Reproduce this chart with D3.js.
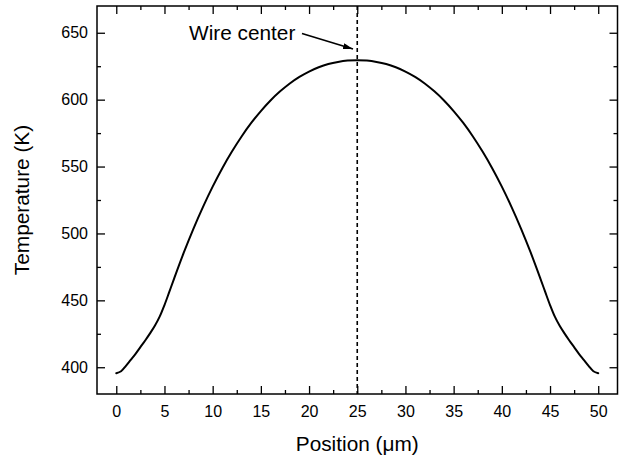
<!DOCTYPE html>
<html>
<head>
<meta charset="utf-8">
<script src="https://cdn.jsdelivr.net/npm/d3@7"></script>
<style>
  html, body { margin: 0; padding: 0; background: #fff; }
  svg { display: block; font-family: Arial, "Liberation Sans", Helvetica, sans-serif; }
</style>
</head>
<body>
<svg id="chart" width="625" height="465"></svg>
<script>
const positions = [0, 0.5, 1, 1.5, 2, 2.5, 3, 3.5, 4, 4.5, 5, 5.5, 6, 7, 8, 9, 10, 11, 12, 13, 14, 15, 16, 17, 18, 19, 20,
  21, 22, 23, 24, 25, 26, 27, 28, 29, 30, 31, 32, 33, 34, 35, 36, 37, 38, 39, 40,
  41, 42, 43, 44, 44.5, 45, 45.5, 46, 46.5, 47, 47.5, 48, 48.5, 49, 49.5, 50];
const temperatures = [395.5, 397, 401, 405.5, 410, 415, 420, 425.3, 431, 437.8, 446.5, 456.3, 466.3, 485.6, 503.5, 519.9, 535.0,
  548.8, 561.2, 572.5, 582.6, 591.5, 599.4, 606.2, 612.1, 617.0, 621.0, 624.2, 626.6, 628.2, 629.2, 629.5,
  629.2, 628.2, 626.6, 624.2, 621.0, 617.0, 612.1, 606.2, 599.4, 591.5, 582.6, 572.5, 561.2, 548.8, 535.0,
  519.9, 503.5, 485.6, 466.3, 456.3, 446.5, 437.8, 431, 425.3, 420, 415, 410, 405.5, 401, 397, 395.5];
const xTicks = [0, 5, 10, 15, 20, 25, 30, 35, 40, 45, 50];
const xMinorTicks = [2.5, 7.5, 12.5, 17.5, 22.5, 27.5, 32.5, 37.5, 42.5, 47.5];
const yTicks = [400, 450, 500, 550, 600, 650];
const yMinorTicks = [425, 475, 525, 575, 625];
const wireCenter = 25;
const annotationText = "Wire center";
const xTitle = "Position (\u03BCm)";
const yTitle = "Temperature (K)";

const svg = d3.select("#chart");
const margin = {left: 97, top: 6, right: 7.5, bottom: 71};
const W = 625, H = 465;
const iw = W - margin.left - margin.right;
const ih = H - margin.top - margin.bottom;

const x = d3.scaleLinear().domain([-2, 52]).range([0, iw]);
const y = d3.scaleLinear().domain([380, 670]).range([ih, 0]);

const g = svg.append("g").attr("transform", `translate(${margin.left},${margin.top})`);

function styleAxis(sel) {
  sel.select(".domain").remove();
  sel.selectAll(".tick line").attr("stroke", "#000").attr("stroke-width", 1.3);
  sel.selectAll(".tick text").attr("fill", "#000").style("font-size", "16px");
}

// bottom axis
g.append("g").attr("transform", `translate(0,${ih})`)
  .call(d3.axisBottom(x).tickValues(xTicks).tickSizeInner(-8).tickSizeOuter(0).tickPadding(12).tickFormat(d3.format("d")))
  .call(styleAxis);
g.append("g").attr("transform", `translate(0,${ih})`)
  .call(d3.axisBottom(x).tickValues(xMinorTicks).tickSizeInner(-4).tickSizeOuter(0).tickFormat(""))
  .call(styleAxis);
// top axis
g.append("g")
  .call(d3.axisTop(x).tickValues(xTicks).tickSizeInner(-8).tickSizeOuter(0).tickFormat(""))
  .call(styleAxis);
g.append("g")
  .call(d3.axisTop(x).tickValues(xMinorTicks).tickSizeInner(-4).tickSizeOuter(0).tickFormat(""))
  .call(styleAxis);
// left axis
g.append("g")
  .call(d3.axisLeft(y).tickValues(yTicks).tickSizeInner(-8).tickSizeOuter(0).tickPadding(9).tickFormat(d3.format("d")))
  .call(styleAxis);
g.append("g")
  .call(d3.axisLeft(y).tickValues(yMinorTicks).tickSizeInner(-4).tickSizeOuter(0).tickFormat(""))
  .call(styleAxis);
// right axis
g.append("g").attr("transform", `translate(${iw},0)`)
  .call(d3.axisRight(y).tickValues(yTicks).tickSizeInner(-8).tickSizeOuter(0).tickFormat(""))
  .call(styleAxis);
g.append("g").attr("transform", `translate(${iw},0)`)
  .call(d3.axisRight(y).tickValues(yMinorTicks).tickSizeInner(-4).tickSizeOuter(0).tickFormat(""))
  .call(styleAxis);

// frame
g.append("rect").attr("x", 0).attr("y", 0).attr("width", iw).attr("height", ih)
  .attr("fill", "none").attr("stroke", "#000").attr("stroke-width", 1.5);

// dashed center line
g.append("line")
  .attr("x1", x(wireCenter)).attr("x2", x(wireCenter))
  .attr("y1", 0).attr("y2", ih)
  .attr("stroke", "#000").attr("stroke-width", 1.6).attr("stroke-dasharray", "4,3");

// curve
const data = positions.map((p, i) => ({p, t: temperatures[i]}));
g.append("path").datum(data)
  .attr("fill", "none").attr("stroke", "#000").attr("stroke-width", 2)
  .attr("stroke-linejoin", "round").attr("stroke-linecap", "round")
  .attr("d", d3.line().x(d => x(d.p)).y(d => y(d.t)).curve(d3.curveCatmullRom.alpha(0.5)));

// annotation
svg.append("defs").append("marker")
  .attr("id", "arrow").attr("viewBox", "0 0 10 6").attr("refX", 10).attr("refY", 3)
  .attr("markerWidth", 10).attr("markerHeight", 6).attr("markerUnits", "userSpaceOnUse")
  .attr("orient", "auto")
  .append("path").attr("d", "M0,0 L10,3 L0,6 Z").attr("fill", "#000");

g.append("text").attr("x", 189 - margin.left).attr("y", 40 - margin.top)
  .style("font-size", "20.8px").attr("fill", "#000").text(annotationText);
g.append("line")
  .attr("x1", 302 - margin.left).attr("y1", 33.5 - margin.top)
  .attr("x2", 353 - margin.left).attr("y2", 49 - margin.top)
  .attr("stroke", "#000").attr("stroke-width", 1.6).attr("marker-end", "url(#arrow)");

// axis titles
svg.append("text").attr("x", margin.left + iw / 2).attr("y", 451)
  .attr("text-anchor", "middle").style("font-size", "20.8px").attr("fill", "#000").text(xTitle);
svg.append("text").attr("transform", `translate(28.5,${margin.top + ih / 2}) rotate(-90)`)
  .attr("text-anchor", "middle").style("font-size", "20.8px").attr("fill", "#000").text(yTitle);
</script>
</body>
</html>
